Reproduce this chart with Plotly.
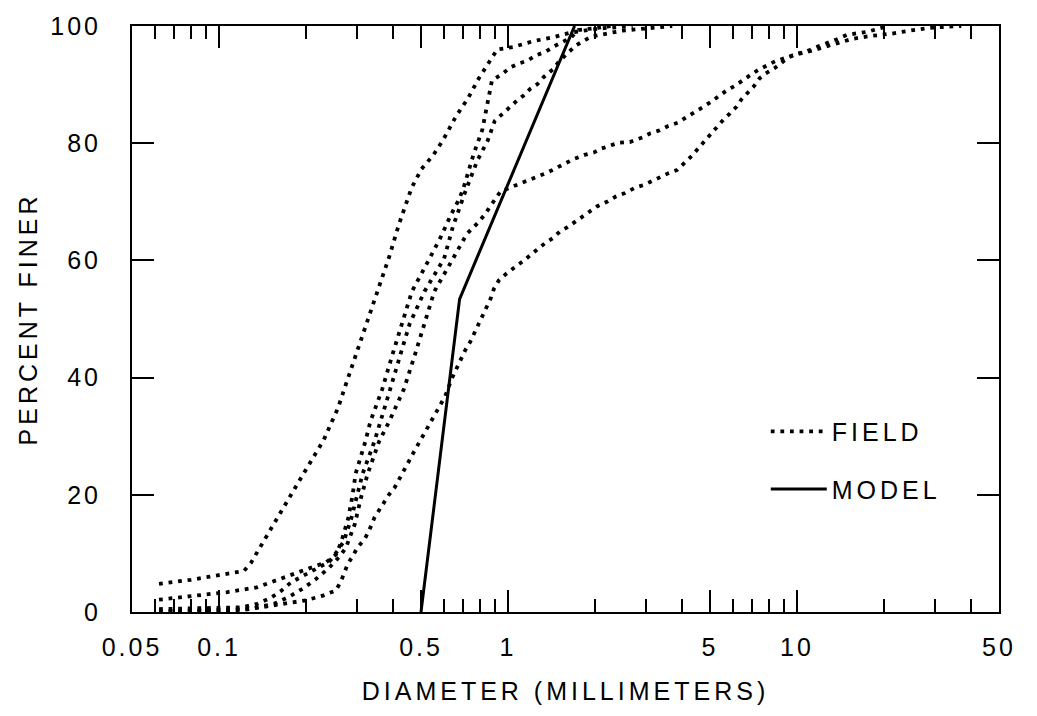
import math
import plotly.graph_objects as go

# ---------------- data ----------------
field_1_x = [0.062, 0.08, 0.1, 0.122, 0.129, 0.140, 0.159, 0.181, 0.196, 0.230, 0.258, 0.279, 0.302,
             0.340, 0.388, 0.419, 0.464, 0.502, 0.552, 0.597, 0.661, 0.726, 0.791, 0.883, 0.918,
             1.04, 1.22, 1.44, 1.65, 2.11, 2.7]
field_1_y = [4.8, 5.5, 6.3, 7.0, 8.4, 11.4, 16.1, 20.6, 23.6, 29.3, 34.8, 39.8, 44.8,
             51.8, 60.6, 66.1, 72.4, 75.6, 78.0, 80.6, 84.6, 87.6, 91.0, 94.7, 96.0,
             96.4, 97.4, 98.1, 98.9, 99.6, 100]

field_2_x = [0.062, 0.081, 0.107, 0.135, 0.165, 0.186, 0.209, 0.235, 0.254, 0.265, 0.28, 0.29,
             0.297, 0.321, 0.334, 0.367, 0.397, 0.430, 0.465, 0.535, 0.588, 0.635, 0.675, 0.70,
             0.725, 0.760, 0.815, 0.845, 0.88, 0.96, 1.016, 1.09, 1.17, 1.25, 1.35, 1.44, 1.55,
             1.65, 1.75, 2.3]
field_2_y = [2.1, 2.8, 3.4, 4.2, 5.8, 6.6, 7.6, 8.5, 9.8, 12.0, 16.0, 20.0,
             23.6, 29.1, 32.5, 38.0, 43.7, 49.2, 54.7, 60.3, 64.2, 67.8, 70.3, 72.2,
             74.6, 78.1, 82.3, 86.5, 90.7, 91.9, 92.9, 93.6, 94.1, 95.0, 95.6, 96.5, 97.3,
             98.0, 99.3, 100]

field_3_x = [0.062, 0.09, 0.12, 0.136, 0.151, 0.164, 0.178, 0.191, 0.215, 0.241, 0.255, 0.27,
             0.287, 0.30, 0.314, 0.345, 0.361, 0.391, 0.423, 0.457, 0.514, 0.601, 0.645, 0.71,
             0.784, 0.85, 0.90, 0.96, 1.016, 1.076, 1.13, 1.195, 1.265, 1.33, 1.43, 1.50, 1.61,
             1.72, 1.94, 2.48, 3.7]
field_3_y = [0.5, 0.6, 0.8, 1.4, 2.4, 3.6, 5.1, 5.9, 7.3, 8.6, 10.2, 12.0,
             16.0, 20.0, 23.6, 29.1, 32.5, 38.0, 43.7, 49.2, 54.7, 60.3, 65.8, 71.6,
             77.1, 80.4, 83.8, 85.1, 86.3, 87.3, 88.1, 89.3, 90.1, 91.3, 92.6, 93.9, 95.4,
             96.7, 98.2, 99.2, 100]

field_4_x = [0.062, 0.1, 0.13, 0.155, 0.175, 0.195, 0.215, 0.24, 0.262, 0.275, 0.295, 0.31,
             0.327, 0.358, 0.388, 0.436, 0.475, 0.514, 0.556, 0.645, 0.72, 0.79, 0.83, 0.89,
             0.94, 0.99, 1.076, 1.17, 1.265, 1.37, 1.46, 1.56, 1.69, 1.84, 1.98, 2.11, 2.25,
             2.42, 2.64, 2.92, 3.11, 3.35, 3.57, 3.87, 4.16, 4.45, 4.74, 5.02, 5.35, 5.71,
             6.10, 6.50, 6.93, 7.34, 7.89, 8.42, 9.05, 9.67, 11.1, 13.5, 15.5, 18.0, 21.3,
             24.5, 28.9, 37]
field_4_y = [0.1, 0.3, 0.6, 1.4, 2.6, 4.0, 5.5, 7.5, 9.5, 11.0, 15.0, 19.5,
             23.6, 29.1, 32.5, 38.0, 43.7, 49.2, 54.7, 60.3, 64.5, 66.5, 67.8, 70.0,
             71.7, 72.2, 72.9, 73.6, 74.3, 75.0, 75.7, 76.4, 77.3, 78.0, 78.4, 79.1, 79.6,
             80.1, 80.2, 81.0, 81.7, 82.2, 82.9, 83.5, 84.5, 85.3, 86.2, 87.0, 88.0, 89.0,
             89.8, 90.8, 91.7, 92.5, 93.3, 94.0, 94.5, 95.0, 95.7, 96.9, 97.8, 98.3, 98.7,
             99.2, 99.7, 100]

field_5_x = [0.062, 0.081, 0.105, 0.12, 0.153, 0.174, 0.2, 0.229, 0.254, 0.264, 0.272, 0.279,
             0.29, 0.302, 0.319, 0.332, 0.345, 0.358, 0.372, 0.387, 0.406, 0.423, 0.44, 0.452,
             0.47, 0.486, 0.543, 0.56, 0.58, 0.606, 0.64, 0.66, 0.685, 0.71, 0.74, 0.767, 0.79,
             0.815, 0.846, 0.873, 0.893, 0.93, 0.99, 1.06, 1.13, 1.195, 1.265, 1.34, 1.43, 1.51,
             1.61, 1.72, 1.87, 2.03, 2.20, 2.36, 2.54, 2.75, 2.96, 3.16, 3.37, 3.60, 3.84, 4.13,
             4.34, 4.55, 4.78, 5.02, 5.26, 5.56, 5.84, 6.17, 6.43, 6.76, 7.09, 7.43, 7.80, 8.36,
             8.93, 9.32, 10.0, 10.7, 11.8, 12.8, 13.7, 14.9, 17.5, 20.7]
field_5_y = [0.0, 0.2, 0.3, 0.3, 1.1, 1.6, 2.0, 2.8, 3.7, 5.2, 6.9, 8.2,
             9.5, 11.1, 12.4, 14.1, 16.1, 17.4, 18.6, 20.0, 21.3, 23.0, 24.5, 25.5,
             27.1, 28.4, 32.5, 33.8, 35.2, 36.8, 39.9, 41.4, 42.9, 44.6, 46.1, 47.7, 49.2,
             50.6, 52.1, 53.6, 55.1, 56.6, 57.8, 58.8, 59.9, 60.9, 61.9, 62.9, 63.8, 64.9,
             65.7, 66.7, 67.8, 69.2, 70.0, 70.9, 71.5, 72.4, 72.9, 73.6, 74.3, 74.9, 75.4, 76.8,
             77.9, 79.1, 80.3, 81.6, 82.6, 84.0, 85.0, 86.2, 87.5, 88.7, 89.7, 91.1, 91.9, 92.8,
             93.8, 94.6, 95.3, 95.6, 96.5, 97.1, 97.7, 98.5, 99.0, 100]

model_x = [0.5, 0.68, 1.7]
model_y = [0.0, 53.4, 100.0]

x_tick_values = [0.05, 0.1, 0.5, 1, 5, 10, 50]
x_tick_labels = ["0.05", "0.1", "0.5", "1", "5", "10", "50"]
x_minor_values = [0.06, 0.07, 0.08, 0.09, 0.2, 0.3, 0.4, 0.6, 0.7, 0.8, 0.9,
                  2, 3, 4, 6, 7, 8, 9, 20, 30, 40]
y_tick_values = [0, 20, 40, 60, 80, 100]
y_tick_labels = ["0", "20", "40", "60", "80", "100"]

x_title = "DIAMETER (MILLIMETERS)"
y_title = "PERCENT FINER"
field_name = "FIELD"
model_name = "MODEL"

# ---------------- styling ----------------
FONT = "Liberation Sans, Arial, Helvetica, sans-serif"


def spaced(text, px):
    return f'<span style="letter-spacing:{px}px">{text}</span>'


fig = go.Figure()

fields = [(field_1_x, field_1_y), (field_2_x, field_2_y), (field_3_x, field_3_y),
          (field_4_x, field_4_y), (field_5_x, field_5_y)]
for i, (fx, fy) in enumerate(fields):
    fig.add_trace(go.Scatter(
        x=fx, y=fy, mode="lines",
        line=dict(color="black", width=3.8, dash="3.8px,5.8px"),
        name=spaced(field_name, 4), legendgroup="field", showlegend=(i == 0),
        hoverinfo="skip"))

fig.add_trace(go.Scatter(
    x=model_x, y=model_y, mode="lines",
    line=dict(color="black", width=3),
    name=spaced(model_name, 4), legendgroup="model", hoverinfo="skip"))

fig.update_layout(
    width=1037, height=716,
    margin=dict(l=132, r=38, t=15, b=104),
    paper_bgcolor="white", plot_bgcolor="white",
    font=dict(family=FONT, size=25, color="black"),
    showlegend=True,
    legend=dict(x=0.731, y=0.347, xanchor="left", yanchor="top",
                bgcolor="rgba(0,0,0,0)", font=dict(size=25),
                itemwidth=56, tracegroupgap=22, traceorder="grouped"),
)

fig.update_xaxes(
    type="log", range=[math.log10(0.05), math.log10(50)],
    tickvals=x_tick_values, ticktext=[spaced(t, 3) for t in x_tick_labels],
    ticks="inside", ticklen=22, tickwidth=2, tickcolor="black",
    showline=True, linewidth=2, linecolor="black", mirror="ticks",
    showgrid=False, zeroline=False, ticklabelstandoff=12,
    minor=dict(tickvals=x_minor_values, ticks="inside", ticklen=13,
               tickwidth=1.6, tickcolor="black", showgrid=False),
    title=dict(text=spaced(x_title, 4), standoff=22, font=dict(size=25)),
)
fig.update_yaxes(
    range=[0, 100],
    tickvals=y_tick_values, ticktext=[spaced(t, 3) for t in y_tick_labels],
    ticks="inside", ticklen=22, tickwidth=2, tickcolor="black",
    showline=True, linewidth=2, linecolor="black", mirror="ticks",
    showgrid=False, zeroline=False, ticklabelstandoff=24,
    title=dict(text=spaced(y_title, 4), standoff=6, font=dict(size=25)),
)

fig.write_html("out.html")
